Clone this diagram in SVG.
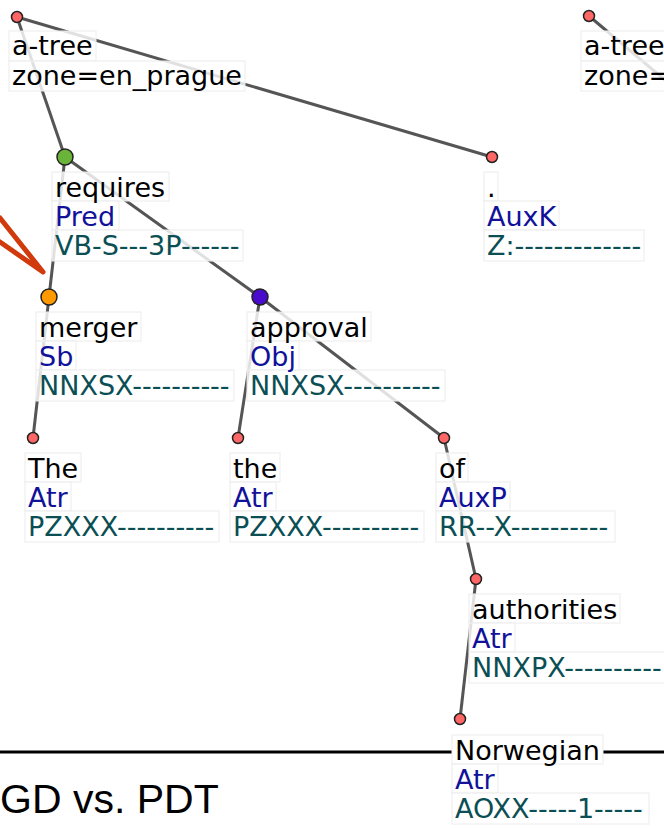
<svg xmlns="http://www.w3.org/2000/svg" width="664" height="828" viewBox="0 0 664 828">
<style>
.e{stroke:#555;stroke-width:3;fill:none}
.bg{fill:#fff;fill-opacity:0.82;stroke:#ececec;stroke-width:1}
text{font-family:"DejaVu Sans","Noto Sans",sans-serif;font-size:27px}
.f{fill:#000}
.a{fill:#11119a}
.t{fill:#0b4f55}
.n{stroke:#222;stroke-width:1.5}
.r{fill:#ff6666}
</style>
<rect width="664" height="828" fill="#fff"/>
<g id="decor">
<polyline points="0,218 43,272 0,242" fill="none" stroke="#d13a0c" stroke-width="5" stroke-linecap="round" stroke-linejoin="round"/>
<line x1="0" y1="752" x2="664" y2="752" stroke="#000" stroke-width="3"/>
<text x="0" y="813" style="font-family:'Liberation Sans',Arial,sans-serif;font-size:41px" fill="#000">GD vs. PDT</text>
</g>
<g id="edges">
<line class="e" x1="17" y1="17" x2="65" y2="157"/>
<line class="e" x1="17" y1="17" x2="492" y2="157"/>
<line class="e" x1="65" y1="157" x2="49" y2="297"/>
<line class="e" x1="65" y1="157" x2="260" y2="297"/>
<line class="e" x1="49" y1="297" x2="33" y2="438"/>
<line class="e" x1="260" y1="297" x2="238" y2="438"/>
<line class="e" x1="260" y1="297" x2="444" y2="438"/>
<line class="e" x1="444" y1="438" x2="476" y2="579"/>
<line class="e" x1="476" y1="579" x2="460" y2="719"/>
<line class="e" x1="589" y1="16" x2="672" y2="86"/>
</g>
<g id="root1">
<circle class="n r" cx="17" cy="17" r="5.5"/>
<rect class="bg" x="9" y="31" width="87" height="30"/>
<rect class="bg" x="9" y="61" width="236" height="30"/>
<text class="f" x="12" y="55">a-tree</text>
<text class="f" x="12" y="85">zone=en_prague</text>
</g>
<g id="root2">
<circle class="n r" cx="589" cy="16" r="5.5"/>
<rect class="bg" x="581" y="31" width="87" height="30"/>
<rect class="bg" x="581" y="61" width="236" height="30"/>
<text class="f" x="584" y="55">a-tree</text>
<text class="f" x="584" y="85">zone=en_prague</text>
</g>
<g id="requires">
<circle class="n" cx="65" cy="157" r="8" fill="#6ab43a"/>
<rect class="bg" x="52" y="172" width="117" height="29"/>
<rect class="bg" x="52" y="201" width="67" height="29"/>
<rect class="bg" x="52" y="230" width="191" height="31"/>
<text class="f" x="55" y="197">requires</text>
<text class="a" x="55" y="226">Pred</text>
<text class="t" x="55" y="255">VB-S---3P------</text>
</g>
<g id="period">
<circle class="n r" cx="492" cy="157" r="5.5"/>
<rect class="bg" x="484" y="172" width="14" height="29"/>
<rect class="bg" x="484" y="201" width="75" height="29"/>
<rect class="bg" x="484" y="230" width="160" height="31"/>
<text class="f" x="487" y="197">.</text>
<text class="a" x="487" y="226">AuxK</text>
<text class="t" x="487" y="255">Z:-------------</text>
</g>
<g id="merger">
<circle class="n" cx="49" cy="297" r="8" fill="#ff9900"/>
<rect class="bg" x="36" y="312" width="105" height="29"/>
<rect class="bg" x="36" y="341" width="40" height="29"/>
<rect class="bg" x="36" y="370" width="198" height="31"/>
<text class="f" x="39" y="337">merger</text>
<text class="a" x="39" y="366">Sb</text>
<text class="t" x="39" y="395">NNXSX----------</text>
</g>
<g id="approval">
<circle class="n" cx="260" cy="297" r="8" fill="#4a0ccc"/>
<rect class="bg" x="247" y="312" width="124" height="29"/>
<rect class="bg" x="247" y="341" width="52" height="29"/>
<rect class="bg" x="247" y="370" width="198" height="31"/>
<text class="f" x="250" y="337">approval</text>
<text class="a" x="250" y="366">Obj</text>
<text class="t" x="250" y="395">NNXSX----------</text>
</g>
<g id="The">
<circle class="n r" cx="33" cy="438" r="5.5"/>
<rect class="bg" x="25" y="453" width="56" height="29"/>
<rect class="bg" x="25" y="482" width="46" height="29"/>
<rect class="bg" x="25" y="511" width="194" height="31"/>
<text class="f" x="28" y="478">The</text>
<text class="a" x="28" y="507">Atr</text>
<text class="t" x="28" y="536">PZXXX----------</text>
</g>
<g id="the">
<circle class="n r" cx="238" cy="438" r="5.5"/>
<rect class="bg" x="230" y="453" width="50" height="29"/>
<rect class="bg" x="230" y="482" width="46" height="29"/>
<rect class="bg" x="230" y="511" width="194" height="31"/>
<text class="f" x="233" y="478">the</text>
<text class="a" x="233" y="507">Atr</text>
<text class="t" x="233" y="536">PZXXX----------</text>
</g>
<g id="of">
<circle class="n r" cx="444" cy="438" r="5.5"/>
<rect class="bg" x="436" y="453" width="32" height="29"/>
<rect class="bg" x="436" y="482" width="74" height="29"/>
<rect class="bg" x="436" y="511" width="179" height="31"/>
<text class="f" x="439" y="478">of</text>
<text class="a" x="439" y="507">AuxP</text>
<text class="t" x="439" y="536">RR--X----------</text>
</g>
<g id="authorities">
<circle class="n r" cx="476" cy="579" r="5.5"/>
<rect class="bg" x="469" y="594" width="151" height="29"/>
<rect class="bg" x="469" y="623" width="46" height="29"/>
<rect class="bg" x="469" y="652" width="197" height="31"/>
<text class="f" x="472" y="619">authorities</text>
<text class="a" x="472" y="648">Atr</text>
<text class="t" x="472" y="677">NNXPX----------</text>
</g>
<g id="Norwegian">
<circle class="n r" cx="460" cy="719" r="5.5"/>
<rect class="bg" x="452" y="735" width="151" height="29" style="fill-opacity:1"/>
<rect class="bg" x="452" y="764" width="46" height="29"/>
<rect class="bg" x="452" y="793" width="197" height="31"/>
<text class="f" x="455" y="760">Norwegian</text>
<text class="a" x="455" y="789">Atr</text>
<text class="t" x="455" y="818">AOXX-----1-----</text>
</g>
</svg>
